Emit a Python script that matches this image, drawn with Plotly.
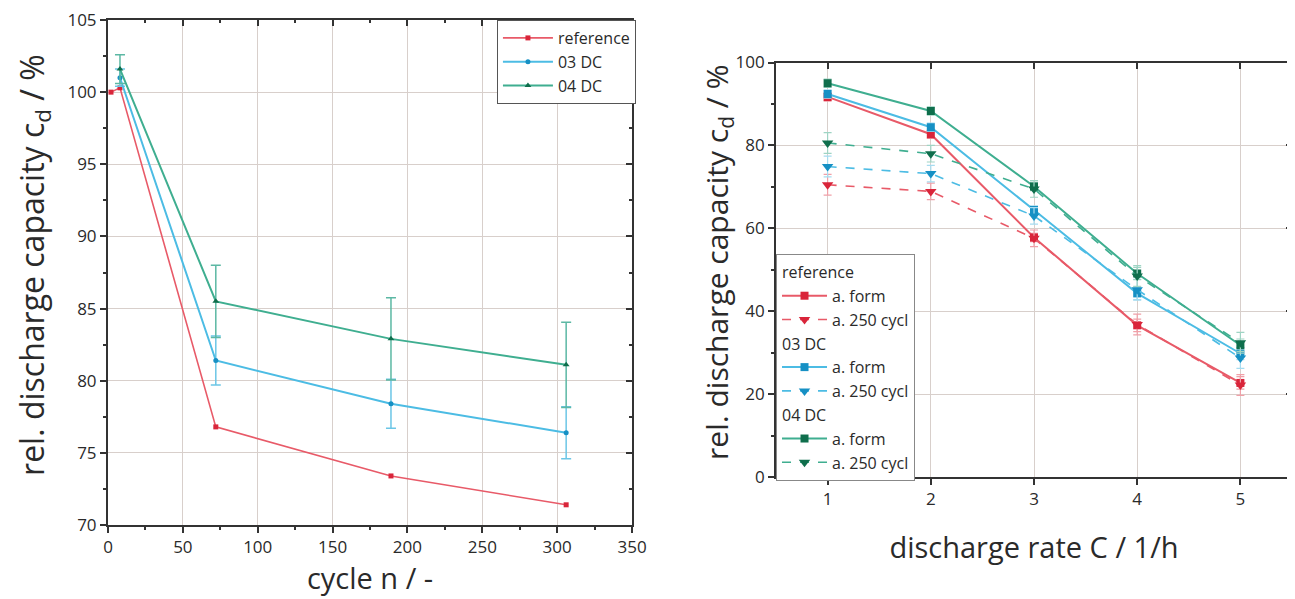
import plotly.graph_objects as go

# left panel: relative capacity over cycles
cycles_ref = [2, 8, 72, 189, 306]
cap_ref = [100.0, 100.3, 76.8, 73.4, 71.4]
cycles_dc = [8, 72, 189, 306]
cap_03 = [101.0, 81.4, 78.4, 76.4]
err_03 = [0.6, 1.7, 1.7, 1.8]
cap_04 = [101.6, 85.5, 82.9, 81.1]
err_04 = [1.0, 2.5, 2.85, 2.95]

# right panel: capacity vs discharge rate
rates = [1, 2, 3, 4, 5]
ref_form = [91.7, 82.7, 57.8, 36.6, 22.7]
ref_250 = [70.5, 68.9, 57.6, 36.8, 22.2]
dc03_form = [92.4, 84.4, 64.4, 44.3, 29.8]
dc03_250 = [74.9, 73.2, 63.0, 45.2, 28.7]
dc04_form = [95.0, 88.3, 70.1, 49.1, 31.8]
dc04_250 = [80.6, 78.0, 69.5, 48.5, 32.4]
err_form = [1.0, 1.0, 1.0, 1.5, 1.5]
err_250 = [2.5, 2.0, 2.0, 2.5, 2.5]

FONT = "Open Sans"
TXT = "#2a2a2a"
AX = "#333333"
GRID = "#d8cfcb"

RED, RED_L = "#d9253a", "#e85a68"
BLUE, BLUE_L = "#1690c4", "#4cbce4"
GREEN, GREEN_L = "#0f6e4c", "#3fae90"

fig = go.Figure()

# ---- left panel traces
fig.add_trace(go.Scatter(x=cycles_ref, y=cap_ref, name="reference", mode="lines+markers",
                         line=dict(color=RED_L, width=1.6),
                         marker=dict(symbol="square", size=5, color=RED),
                         xaxis="x", yaxis="y", legend="legend"))
fig.add_trace(go.Scatter(x=cycles_dc, y=cap_03, name="03 DC", mode="lines+markers",
                         line=dict(color=BLUE_L, width=2),
                         marker=dict(symbol="circle", size=5, color=BLUE),
                         error_y=dict(type="data", array=err_03, color="#6cc6e6", thickness=1.5, width=5),
                         xaxis="x", yaxis="y", legend="legend"))
fig.add_trace(go.Scatter(x=cycles_dc, y=cap_04, name="04 DC", mode="lines+markers",
                         line=dict(color=GREEN_L, width=2),
                         marker=dict(symbol="triangle-up", size=6, color=GREEN),
                         error_y=dict(type="data", array=err_04, color="#5cb8a4", thickness=1.5, width=5),
                         xaxis="x", yaxis="y", legend="legend"))

# ---- right panel traces
groups = [
    ("reference", ref_form, ref_250, RED, RED_L, "#f0a0a8"),
    ("03 DC", dc03_form, dc03_250, BLUE, BLUE_L, "#a6dcf0"),
    ("04 DC", dc04_form, dc04_250, GREEN, GREEN_L, "#9fd4c4"),
]
for g, form, cyc, mc, lc, ec in groups:
    fig.add_trace(go.Scatter(x=rates, y=form, name="a. form", mode="lines+markers",
                             legendgroup=g, legendgrouptitle_text=g,
                             line=dict(color=lc, width=2),
                             marker=dict(symbol="square", size=8, color=mc),
                             error_y=dict(type="data", array=err_form, color=ec, thickness=1.2, width=4),
                             xaxis="x2", yaxis="y2", legend="legend2"))
    fig.add_trace(go.Scatter(x=rates, y=cyc, name="a. 250 cycl", mode="lines+markers",
                             legendgroup=g,
                             line=dict(color=lc, width=1.6, dash="dash"),
                             marker=dict(symbol="triangle-down", size=10, color=mc),
                             error_y=dict(type="data", array=err_250, color=ec, thickness=1.2, width=4),
                             xaxis="x2", yaxis="y2", legend="legend2"))

# empty traces so the frame axes (top/right, inward ticks) get drawn
fig.add_trace(go.Scatter(x=[None], y=[None], xaxis="x3", yaxis="y3", showlegend=False, hoverinfo="skip"))
fig.add_trace(go.Scatter(x=[None], y=[None], xaxis="x4", yaxis="y4", showlegend=False, hoverinfo="skip"))

tickfont = dict(family=FONT, size=17, color=TXT)

base_axis = dict(showline=True, linecolor=AX, linewidth=2, ticks="outside", ticklen=6,
                 tickwidth=1.5, tickcolor=AX, showgrid=True, gridcolor=GRID, gridwidth=1.2,
                 zeroline=False, tickfont=tickfont, automargin=False, ticklabeloverflow="allow")
mirror_axis = dict(showline=True, linecolor=AX, linewidth=2, ticks="inside", ticklen=6,
                   tickwidth=1.5, tickcolor=AX, showgrid=False, zeroline=False,
                   showticklabels=False, automargin=False)

# y titles as rotated annotations so they sit where the original has them
ytitle = "rel. discharge capacity c<sub>d</sub> / %"

# page body adds 8px offset, so the figure is a bit smaller than the window
fig.update_layout(
    width=1287, height=591,
    margin=dict(l=100, r=3, t=12, b=74, autoexpand=False),
    paper_bgcolor="white", plot_bgcolor="white",
    font=dict(family=FONT, color=TXT),
    showlegend=True,
    xaxis=dict(base_axis, domain=[0, 0.4426], anchor="y", range=[0, 350], dtick=50,
               minor=dict(dtick=25, ticks="outside", ticklen=3, tickcolor=AX, showgrid=False),
               title=dict(text="cycle n / -", font=dict(family=FONT, size=29, color=TXT), standoff=2)),
    yaxis=dict(base_axis, domain=[0, 1], anchor="x", range=[70, 105], dtick=5,
               minor=dict(dtick=2.5, ticks="outside", ticklen=3, tickcolor=AX, showgrid=False)),
    xaxis3=dict(mirror_axis, overlaying="x", side="top", anchor="y", range=[0, 350], dtick=50,
                minor=dict(dtick=25, ticks="inside", ticklen=3, tickcolor=AX)),
    yaxis3=dict(mirror_axis, overlaying="y", side="right", anchor="x", range=[70, 105], dtick=5,
                minor=dict(dtick=2.5, ticks="inside", ticklen=3, tickcolor=AX)),
    xaxis2=dict(base_axis, domain=[0.5642, 1], anchor="y2", range=[0.5, 5.5], dtick=1,
                title=dict(text="discharge rate C / 1/h", font=dict(family=FONT, size=29, color=TXT), standoff=28)),
    yaxis2=dict(base_axis, domain=[0.095, 0.9158], anchor="x2", range=[0, 100], dtick=20,
                minor=dict(dtick=10, ticks="outside", ticklen=3, tickcolor=AX, showgrid=False)),
    xaxis4=dict(mirror_axis, overlaying="x2", side="top", anchor="y2", range=[0.5, 5.5], dtick=1),
    yaxis4=dict(mirror_axis, overlaying="y2", side="right", anchor="x2", range=[0, 100], dtick=20,
                minor=dict(dtick=10, ticks="inside", ticklen=3, tickcolor=AX)),
    annotations=[
        dict(text=ytitle, xref="paper", yref="paper", x=-0.0625, y=0.515, textangle=-90,
             showarrow=False, xanchor="center", yanchor="middle",
             font=dict(family=FONT, size=32, color=TXT)),
        dict(text=ytitle, xref="paper", yref="paper", x=0.5152, y=0.521, textangle=-90,
             showarrow=False, xanchor="center", yanchor="middle",
             font=dict(family=FONT, size=30, color=TXT)),
    ],
    legend=dict(x=0.3285, y=1.0, xanchor="left", yanchor="top", bgcolor="white",
                bordercolor="#555", borderwidth=1, font=dict(family=FONT, size=16, color=TXT),
                itemwidth=50, tracegroupgap=0),
    legend2=dict(x=0.5642, y=0.5366, xanchor="left", yanchor="top", bgcolor="white",
                 bordercolor="#888", borderwidth=1, font=dict(family=FONT, size=16, color=TXT),
                 grouptitlefont=dict(family=FONT, size=16, color=TXT),
                 itemwidth=45, tracegroupgap=0, traceorder="grouped"),
)

fig.write_html("out.html")
